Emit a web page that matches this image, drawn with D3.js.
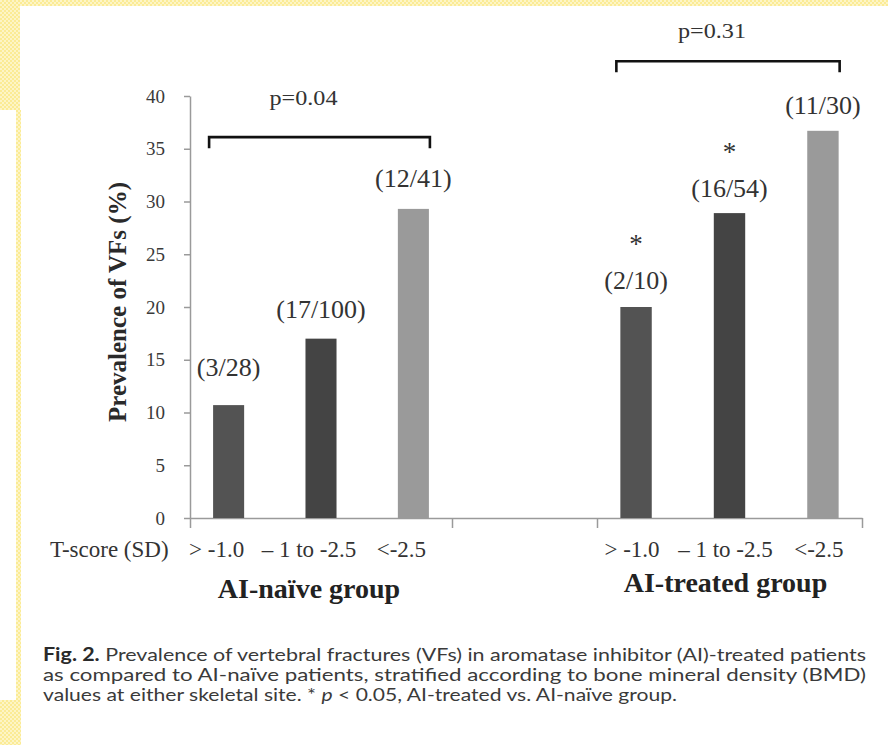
<!DOCTYPE html>
<html>
<head>
<meta charset="utf-8">
<script src="https://cdn.jsdelivr.net/npm/d3@7/dist/d3.min.js"></script>
<style>
  html, body { margin: 0; padding: 0; background: #fff; }
  svg { display: block; }
</style>
</head>
<body>
<svg id="chart" width="888" height="745"></svg>
<script>
// ---- data ----
const categories = ["> -1.0", "\u2013 1 to -2.5", "<-2.5"];
const groups = ["AI-na\u00efve group", "AI-treated group"];
const naiveValues = [10.7, 17.0, 29.3];
const treatedValues = [20.0, 28.9, 36.7];
const naiveCounts = ["(3/28)", "(17/100)", "(12/41)"];
const treatedCounts = ["(2/10)", "(16/54)", "(11/30)"];
const treatedSignificant = [true, true, false];
const pValues = ["p=0.04", "p=0.31"];
const yTicks = [0, 5, 10, 15, 20, 25, 30, 35, 40];
const captionLines = [
  [{t: "Fig. 2.", b: true}, {t: " Prevalence of vertebral fractures (VFs) in aromatase inhibitor (AI)-treated patients"}],
  [{t: "as compared to AI-na\u00efve patients, stratified according to bone mineral density (BMD)"}],
  [{t: "values at either skeletal site. * "}, {t: "p", i: true}, {t: " < 0.05, AI-treated vs. AI-na\u00efve group."}]
];

// ---- layout ----
const barColors = ["#535353", "#444444", "#9a9a9a"];
const groupRanges = [[190, 452], [597, 862]];
const groupShift = [-12, -4];
const labelLift = [[29, 21, 22], [18, 16, 17]];
const bracketLevel = [36.1, 43.3];
const pLift = [32, 23];
const serif = "'Liberation Serif', 'Times New Roman', Times, serif";

const svg = d3.select("#chart");

// yellow checkered frame
const defs = svg.append("defs");
const pat = defs.append("pattern").attr("id", "chk")
  .attr("width", 4).attr("height", 4).attr("patternUnits", "userSpaceOnUse");
pat.append("rect").attr("width", 4).attr("height", 4).attr("fill", "#fbeb95");
pat.append("rect").attr("width", 2).attr("height", 2).attr("fill", "#fdf5c6");
pat.append("rect").attr("x", 2).attr("y", 2).attr("width", 2).attr("height", 2).attr("fill", "#fdf5c6");

const frame = [
  [0, 0, 888, 6],
  [0, 0, 20, 110],
  [16, 110, 5, 635],
  [0, 700, 21, 45]
];
svg.append("g").selectAll("rect").data(frame).join("rect")
  .attr("x", d => d[0]).attr("y", d => d[1])
  .attr("width", d => d[2]).attr("height", d => d[3])
  .attr("fill", "url(#chk)");

// ---- scales ----
const y = d3.scaleLinear().domain([0, 40]).range([518, 96]);
const xGroup = groupRanges.map(r =>
  d3.scaleBand().domain(categories).range(r).paddingInner(0.664).paddingOuter(0.25));

// ---- axes ----
const yAxis = svg.append("g")
  .attr("transform", `translate(${groupRanges[0][0]},0)`)
  .call(d3.axisLeft(y).tickValues(yTicks).tickSizeInner(6).tickSizeOuter(0).tickPadding(19));
yAxis.select(".domain").attr("stroke", "#9a9a9a").attr("stroke-width", 1.5);
yAxis.selectAll(".tick line").attr("stroke", "#9a9a9a").attr("stroke-width", 1.5);
yAxis.selectAll(".tick text").attr("font-family", serif).attr("font-size", 19).attr("fill", "#3a3a3a");

const boundaries = [groupRanges[0][0], groupRanges[0][1], groupRanges[1][0], groupRanges[1][1]];
const xFrame = d3.scaleLinear().domain([groupRanges[0][0], groupRanges[1][1]])
  .range([groupRanges[0][0], groupRanges[1][1]]);
const xAxis = svg.append("g")
  .attr("transform", `translate(0,${y(0)})`)
  .call(d3.axisBottom(xFrame).tickValues(boundaries).tickFormat("").tickSizeInner(10).tickSizeOuter(0));
xAxis.select(".domain").attr("stroke", "#9a9a9a").attr("stroke-width", 1.5);
xAxis.selectAll(".tick line").attr("stroke", "#9a9a9a").attr("stroke-width", 1.5);

// y axis title
svg.append("text")
  .attr("transform", "translate(126,302) rotate(-90)")
  .attr("text-anchor", "middle")
  .attr("font-family", serif).attr("font-weight", "bold").attr("font-size", 25)
  .attr("fill", "#2a2a2a")
  .text("Prevalence of VFs (%)");

// ---- bars ----
const seriesValues = [naiveValues, treatedValues];
const seriesCounts = [naiveCounts, treatedCounts];

seriesValues.forEach((vals, g) => {
  const x = xGroup[g];
  const rows = categories.map((c, i) => ({c, i, v: vals[i], label: seriesCounts[g][i]}));
  const gg = svg.append("g");

  gg.selectAll("rect").data(rows).join("rect")
    .attr("x", d => x(d.c)).attr("width", x.bandwidth())
    .attr("y", d => y(d.v)).attr("height", d => y(0) - y(d.v))
    .attr("fill", d => barColors[d.i]);

  gg.selectAll("text.count").data(rows).join("text")
    .attr("class", "count")
    .attr("x", d => x(d.c) + x.bandwidth() / 2)
    .attr("y", d => y(d.v) - labelLift[g][d.i])
    .attr("text-anchor", "middle")
    .attr("font-family", serif).attr("font-size", 26).attr("fill", "#333")
    .text(d => d.label);

  // category tick labels
  gg.selectAll("text.cat").data(rows).join("text")
    .attr("class", "cat")
    .attr("x", d => x(d.c) + x.bandwidth() / 2 + groupShift[g])
    .attr("y", 557)
    .attr("text-anchor", "middle")
    .attr("font-family", serif).attr("font-size", 23).attr("fill", "#333")
    .text(d => d.c);

  // group title
  const centers = categories.map(c => x(c) + x.bandwidth() / 2);
  gg.append("text")
    .attr("x", d3.mean(centers) + groupShift[g])
    .attr("y", g === 0 ? 598 : 592)
    .attr("text-anchor", "middle")
    .attr("font-family", serif).attr("font-weight", "bold").attr("font-size", 28)
    .attr("fill", "#222")
    .text(groups[g]);

  // bracket with p-value across the group
  const bx0 = x(categories[0]) - 4;
  const bx1 = x(categories[2]) + x.bandwidth() + 1;
  const by = y(bracketLevel[g]);
  gg.append("path")
    .attr("d", `M${bx0},${by + 11}V${by}H${bx1}V${by + 11}`)
    .attr("fill", "none").attr("stroke", "#111").attr("stroke-width", 2.6);
  gg.append("text")
    .attr("x", (bx0 + bx1) / 2 - 16)
    .attr("y", by - pLift[g])
    .attr("text-anchor", "middle")
    .attr("font-family", serif).attr("font-size", 20).attr("fill", "#333")
    .attr("textLength", 68).attr("lengthAdjust", "spacingAndGlyphs")
    .text(pValues[g]);
});

// significance stars on the AI-treated bars
const starRows = categories.map((c, i) => ({c, i, v: treatedValues[i], s: treatedSignificant[i]}))
  .filter(d => d.s);
svg.append("g").selectAll("text").data(starRows).join("text")
  .attr("x", d => xGroup[1](d.c) + xGroup[1].bandwidth() / 2)
  .attr("y", d => y(d.v) - labelLift[1][d.i] - 36)
  .attr("text-anchor", "middle")
  .attr("font-family", serif).attr("font-size", 27).attr("fill", "#333")
  .text("*");

// "T-score (SD)" row label
svg.append("text")
  .attr("x", 50).attr("y", 557)
  .attr("font-family", serif).attr("font-size", 23).attr("fill", "#333")
  .text("T-score (SD)");

// ---- caption ----
const capWidths = [823, 823, 634];
const capBase = [661, 681, 701];
const cap = svg.append("g")
  .attr("font-family", "Lato, 'Liberation Sans', sans-serif")
  .attr("font-size", 18).attr("fill", "#3a3a3a");
captionLines.forEach((parts, li) => {
  const t = cap.append("text")
    .attr("x", 43).attr("y", capBase[li])
    .attr("textLength", capWidths[li]).attr("lengthAdjust", "spacingAndGlyphs");
  parts.forEach(p => {
    t.append("tspan")
      .attr("font-weight", p.b ? "bold" : null)
      .attr("font-style", p.i ? "italic" : null)
      .attr("fill", p.b ? "#2a2a2a" : null)
      .text(p.t);
  });
});
</script>
</body>
</html>
